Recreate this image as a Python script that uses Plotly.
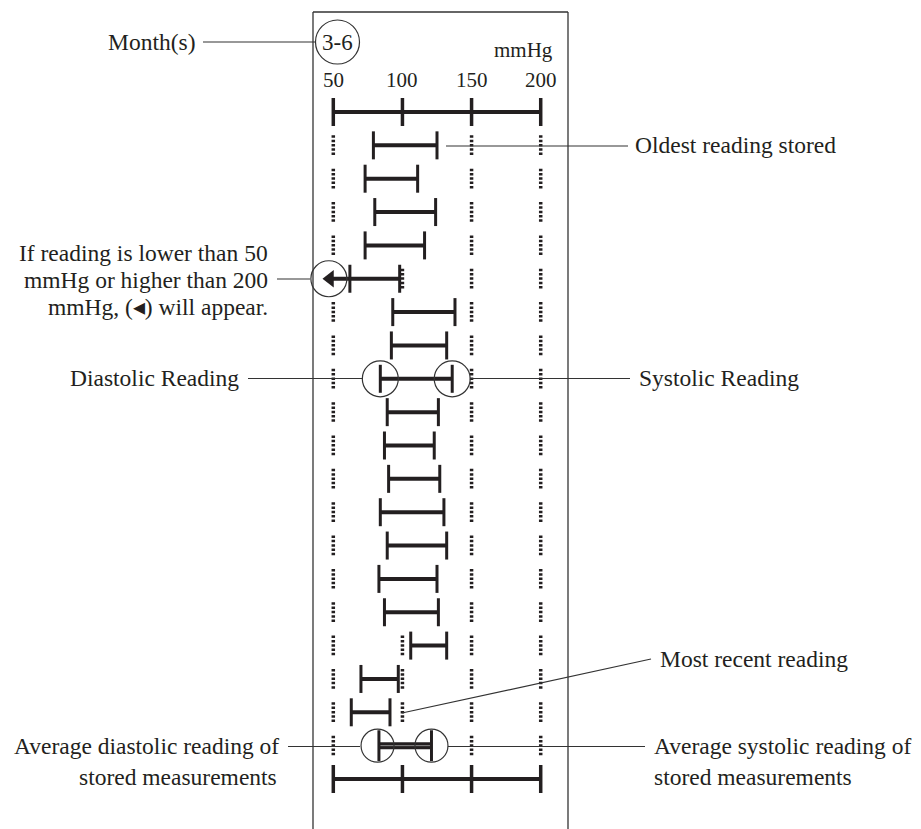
import plotly.graph_objects as go

# stored readings, oldest first (mmHg)
diastolic = [79, 73, 80, 73, 62, 93, 92, 84, 89, 87, 90, 84, 89, 83, 87, 106, 70, 63]
systolic = [125, 111, 124, 116, 98, 138, 132, 136, 126, 123, 127, 130, 132, 125, 126, 132, 97, 91]
out_of_range = [5]  # reading numbers whose value went below 50 mmHg
avg_diastolic = 83
avg_systolic = 121
scale_ticks = [50, 100, 150, 200]
tick_labels = ["50", "100", "150", "200"]
month_label = "3-6"

PAGE_W, PAGE_H = 921, 829
OFF = 8  # default body margin of the html page
W, H = PAGE_W - OFF, PAGE_H - OFF
INK = "#231f20"
SERIF = "Liberation Serif, Times New Roman, serif"

# page-pixel layout of the panel
PX_50, PX_PER_MMHG = 333.3, 1.3827
ROW0_PX, ROW_PX = 112, 33.35
ARROW_AT = 46.8

n = len(diastolic)
avg_row = n + 1
bottom_row = n + 2


def px(x):
    return (x - OFF) / W


def py(y):
    return 1 - (y - OFF) / H


fig = go.Figure()

# dotted guides, hidden where a bar covers them
gx, gy = [], []
rows = [(i + 1, (ARROW_AT if i + 1 in out_of_range else diastolic[i]), systolic[i]) for i in range(n)]
rows.append((avg_row, avg_diastolic, avg_systolic))
for r, lo, hi in rows:
    for g in scale_ticks:
        if lo <= g <= hi:
            continue
        gx += [g, g, None]
        gy += [r - 0.3, r + 0.3, None]
fig.add_trace(go.Scatter(x=gx, y=gy, mode="lines",
                         line=dict(color=INK, width=3.5, dash="2.5px,1.8px"), hoverinfo="skip"))

# reading bars
bx, by, tx, ty = [], [], [], []
for i in range(n):
    r = i + 1
    start = ARROW_AT if r in out_of_range else diastolic[i]
    bx += [start, systolic[i], None]
    by += [r, r, None]
    tx += [diastolic[i], systolic[i]]
    ty += [r, r]
fig.add_trace(go.Scatter(x=bx, y=by, mode="lines", line=dict(color=INK, width=4), hoverinfo="skip"))
fig.add_trace(go.Scatter(x=tx, y=ty, mode="markers", hoverinfo="skip",
                         marker=dict(symbol="line-ns", size=20, line=dict(color=INK, width=3))))

# scale rows at top and bottom
for r in (0, bottom_row):
    fig.add_trace(go.Scatter(x=[scale_ticks[0], scale_ticks[-1]], y=[r, r], mode="lines",
                             line=dict(color=INK, width=4), hoverinfo="skip"))
    fig.add_trace(go.Scatter(x=scale_ticks, y=[r] * len(scale_ticks), mode="markers", hoverinfo="skip",
                             marker=dict(symbol="line-ns", size=20, line=dict(color=INK, width=3.5))))

# average bar (double stroke)
fig.add_trace(go.Scatter(x=[avg_diastolic, avg_systolic], y=[avg_row, avg_row], mode="lines",
                         line=dict(color=INK, width=7), hoverinfo="skip"))
fig.add_trace(go.Scatter(x=[avg_diastolic, avg_systolic], y=[avg_row, avg_row], mode="lines",
                         line=dict(color="#8a8a8a", width=1), hoverinfo="skip"))
fig.add_trace(go.Scatter(x=[avg_diastolic, avg_systolic], y=[avg_row, avg_row], mode="markers", hoverinfo="skip",
                         marker=dict(symbol="line-ns", size=22, line=dict(color=INK, width=3))))

# out-of-range arrow
for r in out_of_range:
    fig.add_trace(go.Scatter(x=[ARROW_AT + 0.8], y=[r], mode="markers", hoverinfo="skip",
                             marker=dict(symbol="triangle-left", size=15, color=INK)))

# callout circles
ring = dict(symbol="circle-open", color="#333", line=dict(color="#333", width=1.2))
cx = [ARROW_AT, diastolic[7], systolic[7]]
cy = [out_of_range[0], 8, 8]
fig.add_trace(go.Scatter(x=cx, y=cy, mode="markers", hoverinfo="skip", marker=dict(size=36, **ring)))
fig.add_trace(go.Scatter(x=[avg_diastolic - 1, avg_systolic], y=[avg_row, avg_row], mode="markers",
                         hoverinfo="skip", marker=dict(size=33, **ring)))

# panel frame
frame = dict(type="line", xref="paper", yref="paper", line=dict(color="#333", width=1.3))
fig.add_shape(**frame, x0=px(313), x1=px(313), y0=-0.05, y1=py(12))
fig.add_shape(**frame, x0=px(568), x1=px(568), y0=-0.05, y1=py(12))
fig.add_shape(**frame, x0=px(313), x1=px(568), y0=py(12), y1=py(12))

# month circle
fig.add_shape(type="circle", xref="paper", yref="paper", x0=px(315.5), x1=px(359.5),
              y0=py(64), y1=py(20), line=dict(color="#333", width=1.2))

# leader lines
leaders = [
    (203, 42, 315.5, 42),
    (446, 146, 628, 146),
    (277, 279, 310, 279),
    (248, 378.5, 363, 378.5),
    (470, 378.5, 630, 378.5),
    (402, 713, 651, 659),
    (288, 746.5, 360, 746.5),
    (448, 746.5, 645, 746.5),
]
for x0, y0, x1, y1 in leaders:
    fig.add_shape(type="line", xref="paper", yref="paper", x0=px(x0), y0=py(y0), x1=px(x1), y1=py(y1),
                  line=dict(color="#333", width=1.2))

# tick labels and unit
small = dict(family=SERIF, size=21, color=INK)
for v, t in zip(scale_ticks, tick_labels):
    fig.add_annotation(x=v, y=-0.95, xref="x", yref="y", text=t, showarrow=False,
                       xanchor="center", yanchor="middle", font=small)
fig.add_annotation(x=px(523), y=py(50), xref="paper", yref="paper", text="mmHg", showarrow=False,
                   xanchor="center", yanchor="middle", font=small)
fig.add_annotation(x=px(337.5), y=py(42), xref="paper", yref="paper", text=month_label, showarrow=False,
                   xanchor="center", yanchor="middle", font=dict(family=SERIF, size=23, color=INK))

labels = [
    ("Month(s)", 197, 42, "right"),
    ("Oldest reading stored", 633, 145, "left"),
    ("If reading is lower than 50", 270, 253, "right"),
    ("mmHg or higher than 200", 270, 280, "right"),
    ("mmHg, (\u25c2) will appear.", 270, 307, "right"),
    ("Diastolic Reading", 241, 378, "right"),
    ("Systolic Reading", 637, 378, "left"),
    ("Most recent reading", 658, 659, "left"),
    ("Average diastolic reading of", 281, 746, "right"),
    ("stored measurements", 279, 777, "right"),
    ("Average systolic reading of", 652, 746, "left"),
    ("stored measurements", 652, 777, "left"),
]
for text, x, y, anchor in labels:
    fig.add_annotation(x=px(x), y=py(y), xref="paper", yref="paper", text=text, showarrow=False,
                       xanchor=anchor, yanchor="middle",
                       font=dict(family=SERIF, size=23.5, color=INK))

fig.update_xaxes(range=[50 + (OFF - PX_50) / PX_PER_MMHG, 50 + (PAGE_W - PX_50) / PX_PER_MMHG],
                 visible=False)
fig.update_yaxes(range=[(PAGE_H - ROW0_PX) / ROW_PX, (OFF - ROW0_PX) / ROW_PX], visible=False)
fig.update_layout(
    width=W, height=H, autosize=False,
    margin=dict(l=0, r=0, t=0, b=0),
    showlegend=False,
    plot_bgcolor="white", paper_bgcolor="white",
)

fig.write_html("out.html")
